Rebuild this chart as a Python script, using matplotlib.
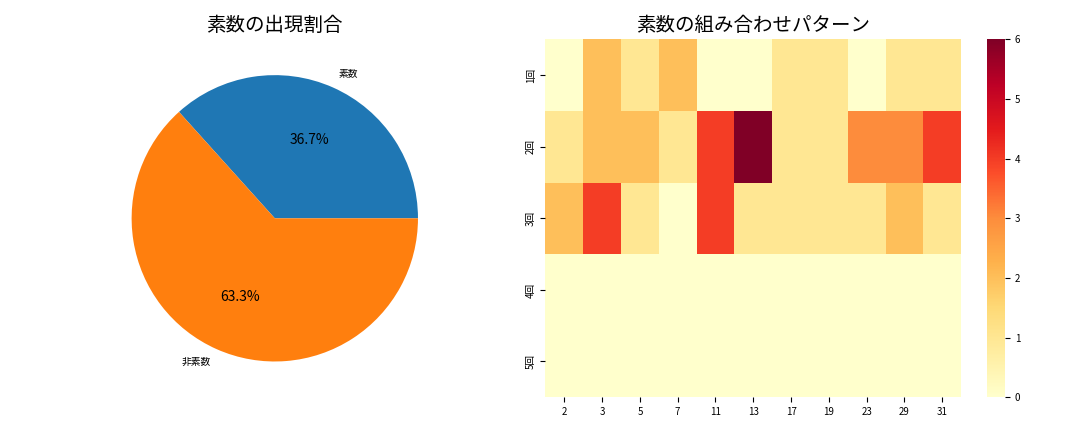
import matplotlib
matplotlib.use("Agg")
import matplotlib.pyplot as plt
import seaborn as sns
import numpy as np

plt.rcParams['font.family'] = ['Noto Sans CJK JP', 'DejaVu Sans']

pie_labels = ['素数', '非素数']
pie_counts = [11, 19]

primes = [2, 3, 5, 7, 11, 13, 17, 19, 23, 29, 31]
rounds = ['1回', '2回', '3回', '4回', '5回']
counts = np.array([
    [0, 2, 1, 2, 0, 0, 1, 1, 0, 1, 1],
    [1, 2, 2, 1, 4, 6, 1, 1, 3, 3, 4],
    [2, 4, 1, 0, 4, 1, 1, 1, 1, 2, 1],
    [0, 0, 0, 0, 0, 0, 0, 0, 0, 0, 0],
    [0, 0, 0, 0, 0, 0, 0, 0, 0, 0, 0],
])

fig, (ax1, ax2) = plt.subplots(1, 2, figsize=(10.8, 4.32), dpi=100)

ax1.pie(pie_counts, labels=pie_labels, autopct='%1.1f%%',
        textprops={'fontsize': 7}, colors=['#1f77b4', '#ff7f0e'])
for t in ax1.texts:
    if '%' in t.get_text():
        t.set_fontsize(10)
ax1.set_title('素数の出現割合', fontsize=14)

sns.heatmap(counts, ax=ax2, cmap='YlOrRd', xticklabels=primes, yticklabels=rounds)
ax2.tick_params(labelsize=7)
ax2.set_title('素数の組み合わせパターン', fontsize=14)
cbar = ax2.collections[0].colorbar
cbar.ax.tick_params(labelsize=7)

plt.tight_layout()
plt.savefig('out.png')
